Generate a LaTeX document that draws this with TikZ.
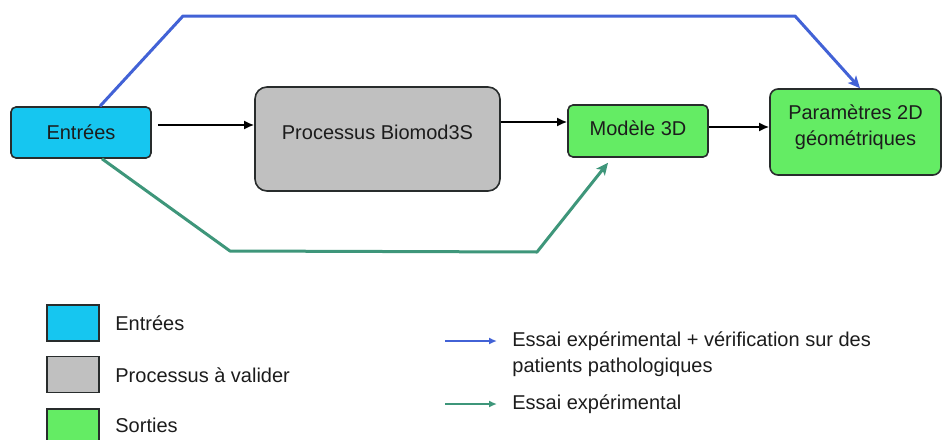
\documentclass[tikz,border=0pt]{standalone}
\usepackage{fontspec}
\setmainfont{Liberation Sans}
\usetikzlibrary{arrows.meta,positioning,calc}
\definecolor{entreecol}{RGB}{22,198,240}
\definecolor{processcol}{RGB}{192,192,192}
\definecolor{sortiecol}{RGB}{100,236,100}
\definecolor{boxline}{RGB}{40,44,44}
\definecolor{bluetrial}{RGB}{66,98,214}
\definecolor{greentrial}{RGB}{62,150,122}
\definecolor{textcol}{RGB}{28,28,28}

\begin{document}
\begin{tikzpicture}[x=0.5pt,y=-0.5pt,
    box/.style={draw=boxline,line width=0.8pt,align=center,inner sep=0pt,text=textcol,font=\fontsize{10}{13}\selectfont},
    legbox/.style={draw=boxline,line width=0.8pt,minimum width=26pt,minimum height=18pt,inner sep=0pt},
    legtext/.style={anchor=west,inner sep=0pt,align=left,text=textcol,font=\fontsize{10}{13}\selectfont},
    flow/.style={-{Latex[length=5pt,width=4.5pt]},line width=0.9pt,draw=black},
    trial/.style={-{Stealth[length=6pt,width=5.5pt,inset=1.5pt]},line width=1.5pt,line join=round},
    legarrow/.style={-{Latex[length=4pt,width=3.5pt]},line width=1.2pt}]
    \useasboundingbox (0,0) rectangle (942,439);
    \clip (0,0) rectangle (942,439);

    \node[box,fill=entreecol,rounded corners=2.5pt,minimum width=70pt,minimum height=25.5pt] (entrees) at (81,132.5) {Entrées};
    \node[box,fill=processcol,rounded corners=6pt,minimum width=122.5pt,minimum height=52pt,text depth=7pt] (processus) at (377.5,139) {Processus Biomod3S};
    \node[box,fill=sortiecol,rounded corners=2.5pt,minimum width=70pt,minimum height=26pt,text depth=3pt] (modele) at (638,131) {Modèle 3D};
    \node[box,fill=sortiecol,rounded corners=4pt,minimum width=85.5pt,minimum height=43pt,text depth=7pt] (params) at (855.5,132) {Paramètres 2D\\géométriques};

    \draw[flow] ($(entrees.east)+(6,-7.5)$) -- ($(entrees.east -| processus.west)+(0,-7.5)$);
    \draw[flow] ($(processus.east)+(0,-17)$) -- ($(processus.east -| modele.west)+(0,-17)$);
    \draw[flow] ($(modele.east)+(0,-4)$) -- ($(modele.east -| params.west)+(0,-4)$);

    \coordinate (bluebendA) at (183,16);
    \coordinate (bluebendB) at (795,16);
    \draw[trial,bluetrial] ($(entrees.north)+(19,0)$) -- (bluebendA) -- (bluebendB) -- ($(params.north)+(4.5,0)$);
    \coordinate (greenbendA) at (230,251);
    \coordinate (greenbendB) at (537,252);
    \draw[trial,greentrial] ($(entrees.south)+(21,0)$) -- (greenbendA) -- (greenbendB) -- ($(modele.south)+(-30,5)$);

    \node[legbox,fill=entreecol] (legentrees) at (73,323) {};
    \node[legbox,fill=processcol] (legprocess) at (73,374.5) {};
    \node[legbox,fill=sortiecol] (legsorties) at (73,427) {};
    \node[legtext] (txtentrees) at (115,323) {Entrées};
    \node[legtext] (txtprocess) at (115,375) {Processus à valider};
    \node[legtext] (txtsorties) at (115,425) {Sorties};

    \coordinate (legblueA) at (445,341);
    \coordinate (legblueB) at (497,341);
    \draw[legarrow,bluetrial] (legblueA) -- (legblueB);
    \node[legtext] (txtblue) at (512,354) {Essai expérimental + vérification sur des\\patients pathologiques};
    \coordinate (leggreenA) at (445,404);
    \coordinate (leggreenB) at (497,404);
    \draw[legarrow,greentrial] (leggreenA) -- (leggreenB);
    \node[legtext] (txtgreen) at (512,404) {Essai expérimental};
\end{tikzpicture}
\end{document}
